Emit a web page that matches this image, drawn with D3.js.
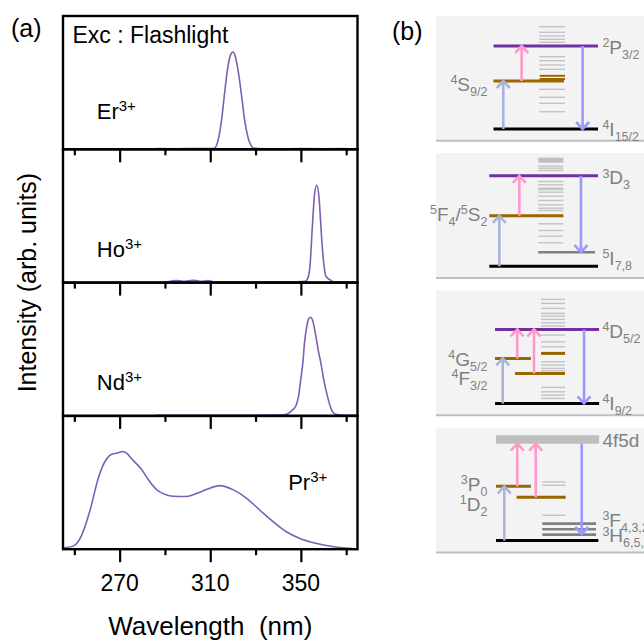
<!DOCTYPE html>
<html>
<head>
<meta charset="utf-8">
<script src="https://cdn.jsdelivr.net/npm/d3@7"></script>
<style>
  body { margin: 0; background: #fff; }
  svg { display: block; font-family: 'Liberation Sans', Arial, sans-serif; }
</style>
</head>
<body>
<svg id="chart" width="644" height="641"></svg>
<script>
/* ---- data: panel (a) emission spectra, [wavelength nm, intensity] ---- */
const ions = ['Er', 'Ho', 'Nd', 'Pr']
const wlTicks = [250, 270, 290, 310, 330, 350, 370]
const wlLabels = [270, 310, 350]

const erSpec = [[286, 0.005], [295, 0.004], [305, 0.006], [310, 0.006], [312, 0.01], [313, 0.04],
  [314, 0.11], [315, 0.22], [316, 0.37], [317, 0.52], [318, 0.64], [319, 0.71], [320, 0.73],
  [321, 0.7], [322, 0.62], [323, 0.51], [324, 0.38], [325, 0.24], [326, 0.14], [327, 0.07],
  [328, 0.03], [329, 0.01], [331, 0.005], [340, 0.004], [350, 0.005], [360, 0.004], [370, 0.005]]
const hoSpec = [[290, 0.004], [293, 0.012], [295, 0.016], [298, 0.01], [300, 0.012], [303, 0.018],
  [306, 0.01], [309, 0.015], [312, 0.005], [320, 0.004], [330, 0.005], [340, 0.004], [348, 0.006],
  [352, 0.01], [353, 0.03], [354, 0.12], [355, 0.4], [355.5, 0.54], [356, 0.66], [357, 0.73],
  [358, 0.64], [358.5, 0.52], [359, 0.38], [360, 0.16], [361, 0.05], [362, 0.03], [363, 0.02],
  [364, 0.008], [368, 0.004], [375, 0.004]]
const ndSpec = [[286, 0.005], [300, 0.004], [315, 0.005], [330, 0.005], [340, 0.006], [342, 0.008],
  [344, 0.015], [346, 0.04], [347.8, 0.075], [349, 0.15], [350, 0.28], [351, 0.42], [351.5, 0.53],
  [352.5, 0.66], [353.5, 0.73], [354.4, 0.74], [355.3, 0.71], [356.6, 0.6], [357.8, 0.48],
  [358.8, 0.4], [360, 0.28], [361.7, 0.15], [363, 0.07], [364, 0.03], [366, 0.01], [370, 0.005],
  [375, 0.005]]
const prSpec = [[245.3, 0.01], [249.7, 0.025], [253.3, 0.108], [257, 0.296], [260.6, 0.535],
  [264.3, 0.678], [266.5, 0.712], [268.7, 0.72], [271.4, 0.733], [273.1, 0.72], [275.3, 0.678],
  [279.7, 0.598], [282.6, 0.523], [286.3, 0.447], [289.2, 0.417], [293.6, 0.397], [299.5, 0.395],
  [303.9, 0.417], [308.3, 0.447], [314.1, 0.477], [320, 0.447], [325.9, 0.384], [331.7, 0.296],
  [337.6, 0.208], [343.4, 0.133], [349.3, 0.083], [356.6, 0.045], [363.9, 0.02], [374.8, 0.002]]
const spectra = [erSpec, hoSpec, ndSpec, prSpec]

/* ion label anchors in data units [wavelength, intensity] */
const ionLabelAt = [[259.9, 0.23], [259.9, 0.195], [259.9, 0.195], [344.4, 0.445]]

/* ---- data: panel (b) energy level schemes (energy in relative units, x in schematic units) ---- */
const erLevels = [{ e: 0, x0: 0.5, x1: 10, kind: 'ground' }, { e: 0.48, x0: 0.5, x1: 6.9, kind: 'brown' },
  { e: 0.83, x0: 0.5, x1: 10, kind: 'purple' }, { e: 0.532, x0: 4.7, x1: 7, kind: 'brownThin' },
  { e: 0.5, x0: 4.7, x1: 7, kind: 'brownThin' }]
const erLadder = [1.023, 0.967, 0.93, 0.897, 0.867, 0.723, 0.683, 0.64, 0.597, 0.397, 0.317, 0.257, 0.173]
const erArrows = [{ x: 1.39, e0: 0, e1: 0.48, kind: 'up' }, { x: 3.06, e0: 0.48, e1: 0.83, kind: 'pump' },
  { x: 8.6, e0: 0.83, e1: 0, kind: 'down' }]
const erLabels = [{ t: '^{2}P_{3/2}', e: 0.817, side: 'r' }, { t: '^{4}S_{9/2}', e: 0.45, side: 'l' },
  { t: '^{4}I_{15/2}', e: 0, side: 'r' }]

const hoLevels = [{ e: 0, x0: 0.12, x1: 10, kind: 'ground' }, { e: 0.504, x0: 0.12, x1: 6.85, kind: 'brown' },
  { e: 0.904, x0: 0.12, x1: 10, kind: 'purple' }, { e: 0.14, x0: 4.57, x1: 9.73, kind: 'dark' },
  { e: 1.06, x0: 4.57, x1: 6.85, kind: 'block' }]
const hoLadder = [1.0, 0.98, 0.957, 0.847, 0.814, 0.78, 0.767, 0.74, 0.7, 0.657, 0.614, 0.58, 0.557,
  0.424, 0.357, 0.3, 0.234]
const hoArrows = [{ x: 1.03, e0: 0, e1: 0.504, kind: 'up' }, { x: 2.85, e0: 0.504, e1: 0.904, kind: 'pump' },
  { x: 8.45, e0: 0.904, e1: 0.14, kind: 'down' }]
const hoLabels = [{ t: '^{3}D_{3}', e: 0.887, side: 'r' }, { t: '^{5}F_{4}/^{5}S_{2}', e: 0.52, side: 'l' },
  { t: '^{5}I_{7,8}', e: 0.08, side: 'r' }]

const ndLevels = [{ e: 0, x0: 0.64, x1: 10.1, kind: 'ground' }, { e: 0.45, x0: 0.64, x1: 3.9, kind: 'brown' },
  { e: 0.3, x0: 2.45, x1: 7, kind: 'brown' }, { e: 0.5, x0: 4.82, x1: 7, kind: 'brown' },
  { e: 0.74, x0: 0.64, x1: 10.1, kind: 'purple' }]
const ndLadder = [1.04, 1.0, 0.95, 0.9, 0.873, 0.84, 0.806, 0.773, 0.683, 0.616, 0.566, 0.416, 0.383,
  0.35, 0.326, 0.16, 0.116, 0.083, 0.05]
const ndArrows = [{ x: 1.34, e0: 0, e1: 0.45, kind: 'up' }, { x: 2.66, e0: 0.45, e1: 0.74, kind: 'pump' },
  { x: 4.18, e0: 0.3, e1: 0.74, kind: 'pump' }, { x: 8.73, e0: 0.74, e1: 0, kind: 'down' }]
const ndLabels = [{ t: '^{4}D_{5/2}', e: 0.723, side: 'r' }, { t: '^{4}G_{5/2}', e: 0.44, side: 'l' },
  { t: '^{4}F_{3/2}', e: 0.25, side: 'l' }, { t: '^{4}I_{9/2}', e: 0, side: 'r' }]

const prLevels = [{ e: 1.011, x0: 0.73, x1: 10.1, kind: 'band' }, { e: 0, x0: 0.73, x1: 10.03, kind: 'ground' },
  { e: 0.543, x0: 0.73, x1: 3.9, kind: 'brown' }, { e: 0.433, x0: 2.6, x1: 7.06, kind: 'brown' },
  { e: 0.17, x0: 4.94, x1: 9.82, kind: 'dark' }, { e: 0.113, x0: 4.94, x1: 9.82, kind: 'dark' },
  { e: 0.06, x0: 4.94, x1: 9.82, kind: 'dark' }]
const prLadder = [0.586, 0.553, 0.253]
const prArrows = [{ x: 1.48, e0: 0, e1: 0.543, kind: 'up' }, { x: 2.66, e0: 0.543, e1: 0.97, kind: 'pump' },
  { x: 4.34, e0: 0.433, e1: 0.97, kind: 'pump' }, { x: 8.52, e0: 0.97, e1: 0.066, kind: 'down' }]
const prLabels = [{ t: '4f5d', e: 1.0, side: 'r' }, { t: '^{3}P_{0}', e: 0.566, side: 'l' },
  { t: '^{1}D_{2}', e: 0.366, side: 'l' }, { t: '^{3}F_{4,3,2}', e: 0.205, side: 'r' },
  { t: '^{3}H_{6,5,4}', e: 0.05, side: 'r' }]

const schemes = [
  { levels: erLevels, ladder: erLadder, arrows: erArrows, labels: erLabels },
  { levels: hoLevels, ladder: hoLadder, arrows: hoArrows, labels: hoLabels },
  { levels: ndLevels, ladder: ndLadder, arrows: ndArrows, labels: ndLabels },
  { levels: prLevels, ladder: prLadder, arrows: prArrows, labels: prLabels }
]

/* ---- layout ---- */
const plot = { left: 63, right: 357.5, top: 16, panelH: 133.3 }
const box = { left: 436, right: 644, top: 16, step: 137.2, h: 124.8 }
const lineCol = '#7d5fb4'
const levelStyle = {
  ground: { c: '#000', w: 3 },
  purple: { c: '#7030a0', w: 3 },
  brown: { c: '#996600', w: 3 },
  brownThin: { c: '#996600', w: 2 },
  dark: { c: '#808080', w: 2.6 },
  block: { c: '#bfbfbf', w: 5 },
  band: { c: '#bfbfbf', w: 8.3 }
}
const arrowCol = { up: '#a9b4dd', pump: '#ff99cc', down: '#9999ff' }

const svg = d3.select('#chart')

/* ---- panel (a) ---- */
const x = d3.scaleLinear().domain([245, 375]).range([plot.left, plot.right])

ions.forEach(function (ion, i) {
  const top = plot.top + i * plot.panelH
  const y = d3.scaleLinear().domain([0, 1]).range([top + plot.panelH, top])
  const g = svg.append('g')

  const line = d3.line()
    .x((d) => x(d[0]))
    .y((d) => y(d[1]))
    .curve(d3.curveMonotoneX)

  g.append('path')
    .attr('d', line(spectra[i]))
    .attr('fill', 'none')
    .attr('stroke', lineCol)
    .attr('stroke-width', 1.6)

  /* ticks point outward below each panel */
  const axis = d3.axisBottom(x)
    .tickValues(wlTicks)
    .tickSize(0)
    .tickFormat('')
  const ax = g.append('g')
    .attr('transform', `translate(0, ${top + plot.panelH})`)
    .call(axis)
  ax.select('.domain').remove()
  ax.selectAll('.tick line')
    .attr('y2', (d) => (wlLabels.includes(d) ? 13 : 6))
    .attr('stroke', '#000')
    .attr('stroke-width', 2.2)

  /* frame */
  g.append('rect')
    .attr('x', plot.left)
    .attr('y', top)
    .attr('width', plot.right - plot.left)
    .attr('height', plot.panelH)
    .attr('fill', 'none')
    .attr('stroke', '#000')
    .attr('stroke-width', 2.4)

  /* ion label */
  const lab = g.append('text')
    .attr('x', x(ionLabelAt[i][0]))
    .attr('y', y(ionLabelAt[i][1]))
    .attr('font-size', 22)
  lab.append('tspan').text(ion)
  lab.append('tspan').attr('dy', -8).attr('font-size', 15).text('3+')

  /* tick labels only on the bottom panel */
  if (i === ions.length - 1) {
    g.selectAll('text.tl')
      .data(wlLabels)
      .join('text')
      .attr('class', 'tl')
      .attr('x', (d) => x(d))
      .attr('y', top + plot.panelH + 42)
      .attr('text-anchor', 'middle')
      .attr('font-size', 23)
      .text((d) => d)
  }
})

svg.append('text')
  .attr('x', 72.5)
  .attr('y', 43)
  .attr('font-size', 23)
  .text('Exc : Flashlight')

svg.append('text')
  .attr('x', (plot.left + plot.right) / 2)
  .attr('y', 635)
  .attr('text-anchor', 'middle')
  .attr('font-size', 26)
  .attr('xml:space', 'preserve')
  .text('Wavelength  (nm)')

svg.append('text')
  .attr('transform', `translate(36, ${plot.top + plot.panelH * 2}) rotate(-90)`)
  .attr('text-anchor', 'middle')
  .attr('font-size', 25)
  .text('Intensity (arb. units)')

svg.append('text').attr('x', 11).attr('y', 37).attr('font-size', 25).text('(a)')
svg.append('text').attr('x', 392).attr('y', 40).attr('font-size', 25).text('(b)')

/* ---- panel (b) ---- */
const xs = d3.scaleLinear().domain([0, 10]).range([488, 598])

/* rich label: ^{..} superscript, _{..} subscript */
function richLabel(sel, str) {
  const parts = str.match(/\^\{[^}]*\}|_\{[^}]*\}|[^^_]+/g)
  let shift = 0
  parts.forEach(function (p) {
    let t = p
    let target = 0
    if (p[0] === '^') { t = p.slice(2, -1); target = -6.5 }
    else if (p[0] === '_') { t = p.slice(2, -1); target = 5 }
    sel.append('tspan')
      .attr('dy', target - shift)
      .attr('font-size', target === 0 ? 19 : 12.5)
      .text(t)
    shift = target
  })
}

function arrowPath(xp, y0, y1) {
  const dir = y1 < y0 ? 1 : -1
  const hw = 6.5
  const hl = 7
  return `M${xp},${y0}L${xp},${y1}` +
    `M${xp - hw},${y1 + dir * hl}L${xp},${y1}L${xp + hw},${y1 + dir * hl}`
}

schemes.forEach(function (s, i) {
  const top = box.top + i * box.step
  const yE = d3.scaleLinear().domain([0, 1]).range([top + 113, top + 13])
  const g = svg.append('g')

  g.append('rect')
    .attr('x', box.left)
    .attr('y', top)
    .attr('width', box.right - box.left)
    .attr('height', box.h)
    .attr('fill', '#f3f3f3')
  g.append('line')
    .attr('x1', box.left)
    .attr('x2', box.right)
    .attr('y1', top + box.h)
    .attr('y2', top + box.h)
    .attr('stroke', '#bfbfbf')
    .attr('stroke-width', 2)

  /* ladder of gray sub-levels; x span follows the scheme's ladder column */
  const col = s.levels.find((d) => d.kind === 'brownThin' || d.kind === 'block') ||
    { x0: i === 2 ? 4.82 : 4.94, x1: i === 2 ? 7 : 7.06 }
  const lx0 = i === 0 ? 4.66 : col.x0
  const lx1 = col.x1
  g.selectAll('line.ladder')
    .data(s.ladder)
    .join('line')
    .attr('class', 'ladder')
    .attr('x1', xs(lx0))
    .attr('x2', xs(lx1))
    .attr('y1', (d) => yE(d))
    .attr('y2', (d) => yE(d))
    .attr('stroke', '#c3c3c3')
    .attr('stroke-width', 1.4)

  g.selectAll('line.level')
    .data(s.levels)
    .join('line')
    .attr('class', 'level')
    .attr('x1', (d) => xs(d.x0))
    .attr('x2', (d) => xs(d.x1))
    .attr('y1', (d) => yE(d.e))
    .attr('y2', (d) => yE(d.e))
    .attr('stroke', (d) => levelStyle[d.kind].c)
    .attr('stroke-width', (d) => levelStyle[d.kind].w)

  g.selectAll('path.arrow')
    .data(s.arrows)
    .join('path')
    .attr('class', 'arrow')
    .attr('d', (d) => arrowPath(xs(d.x), yE(d.e0), yE(d.e1)))
    .attr('fill', 'none')
    .attr('stroke', (d) => arrowCol[d.kind])
    .attr('stroke-width', 2.6)

  g.selectAll('text.lvl')
    .data(s.labels)
    .join('text')
    .attr('class', 'lvl')
    .attr('x', (d) => (d.side === 'r' ? xs(10.4) : xs(-0.05)))
    .attr('y', (d) => yE(d.e) + 6.5)
    .attr('text-anchor', (d) => (d.side === 'r' ? 'start' : 'end'))
    .attr('fill', '#808080')
    .attr('font-size', 19)
    .each(function (d) { richLabel(d3.select(this), d.t) })
})
</script>
</body>
</html>
